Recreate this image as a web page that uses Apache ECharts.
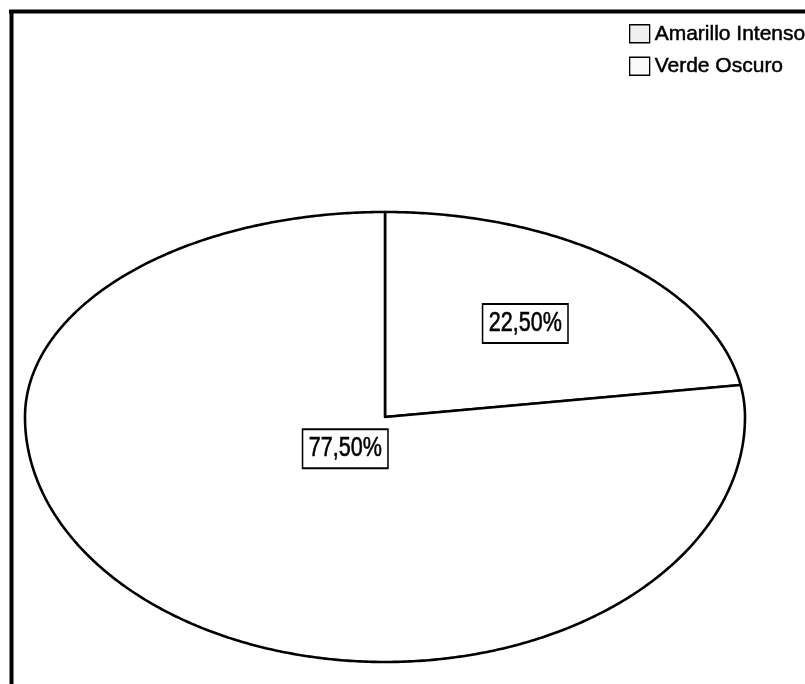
<!DOCTYPE html>
<html>
<head>
<meta charset="utf-8">
<script src="https://cdn.jsdelivr.net/npm/echarts@6/dist/echarts.min.js"></script>
<style>
  html, body { margin: 0; padding: 0; background: #fff; }
  #chart { width: 805px; height: 684px; }
</style>
</head>
<body>
<div id="chart"></div>
<script>
// Colour shares of the sample
const categories = ['Amarillo Intenso', 'Verde Oscuro'];
const shares = [22.5, 77.5];

// Layout of the tilted pie (pixels)
const PIE = { cx: 385, cy: 417, rx: 360, ryTop: 205, ryBottom: 245 };
const LABEL_RADII = [0.6, 0.17];
const SLICE_FILLS = ['#ffffff', '#ffffff'];
const FONT = '"Liberation Sans", Arial, sans-serif';
const LABEL_CONDENSE = 0.77;   // narrow the value labels horizontally

const total = shares.reduce((a, b) => a + b, 0);
const before = shares.map((_, i) => shares.slice(0, i).reduce((a, b) => a + b, 0));

function formatShare(v) {
  return v.toFixed(2).replace('.', ',') + '%';
}

// Project an angle (degrees, counter-clockwise from 3 o'clock) onto the tilted disc
function project(deg, f) {
  const t = deg * Math.PI / 180;
  const s = Math.sin(t);
  const ry = s > 0 ? PIE.ryTop : PIE.ryBottom;
  return [PIE.cx + PIE.rx * f * Math.cos(t), PIE.cy - ry * f * s];
}

function sliceRenderer(idx) {
  return function (params, api) {
    const value = api.value(0);
    const startDeg = 90 - 360 * before[idx] / total;
    const endDeg = startDeg - 360 * value / total;
    const pts = [[PIE.cx, PIE.cy]];
    const steps = Math.max(8, Math.ceil(Math.abs(endDeg - startDeg) * 2));
    for (let k = 0; k <= steps; k++) {
      pts.push(project(startDeg + (endDeg - startDeg) * k / steps, 1));
    }
    const mid = project((startDeg + endDeg) / 2, LABEL_RADII[idx]);
    return {
      type: 'group',
      children: [
        {
          type: 'polygon',
          shape: { points: pts },
          style: { fill: SLICE_FILLS[idx], stroke: '#000', lineWidth: 2.6, lineJoin: 'round' }
        },
        {
          type: 'text',
          z2: 10,
          x: mid[0],
          y: mid[1],
          scaleX: LABEL_CONDENSE,
          style: {
            x: 0,
            y: 0,
            text: formatShare(value),
            font: '28px ' + FONT,
            fill: '#000',
            stroke: '#000',
            lineWidth: 0.6,
            align: 'center',
            verticalAlign: 'middle',
            backgroundColor: '#fff',
            borderColor: '#000',
            borderWidth: 2,
            padding: [5, 7, 4, 7]
          }
        }
      ]
    };
  };
}

const chart = echarts.init(document.getElementById('chart'), null, { renderer: 'canvas' });

chart.setOption({
  backgroundColor: '#fff',
  animation: false,
  legend: {
    orient: 'vertical',
    left: 624,
    top: 18,
    itemWidth: 20,
    itemHeight: 18,
    itemGap: 11,
    itemTextGap: 6,
    icon: 'rect',
    textStyle: {
      fontFamily: FONT, fontSize: 21, color: '#000', lineHeight: 18,
      textBorderColor: '#000', textBorderWidth: 0.5
    },
    data: categories.map((c, i) => ({
      name: c,
      itemStyle: { color: i === 0 ? '#f0f0f0' : '#fafafa', borderColor: '#000', borderWidth: 1.3 }
    }))
  },
  graphic: [
    { type: 'line', shape: { x1: 9, y1: 11.5, x2: 805, y2: 11.5 }, style: { stroke: '#000', lineWidth: 4 } },
    { type: 'line', shape: { x1: 11.5, y1: 10, x2: 11.5, y2: 684 }, style: { stroke: '#000', lineWidth: 4 } }
  ],
  series: categories.map((c, i) => ({
    type: 'custom',
    name: c,
    coordinateSystem: 'none',
    itemStyle: { color: SLICE_FILLS[i] },
    renderItem: sliceRenderer(i),
    data: [[shares[i]]]
  }))
});
</script>
</body>
</html>
